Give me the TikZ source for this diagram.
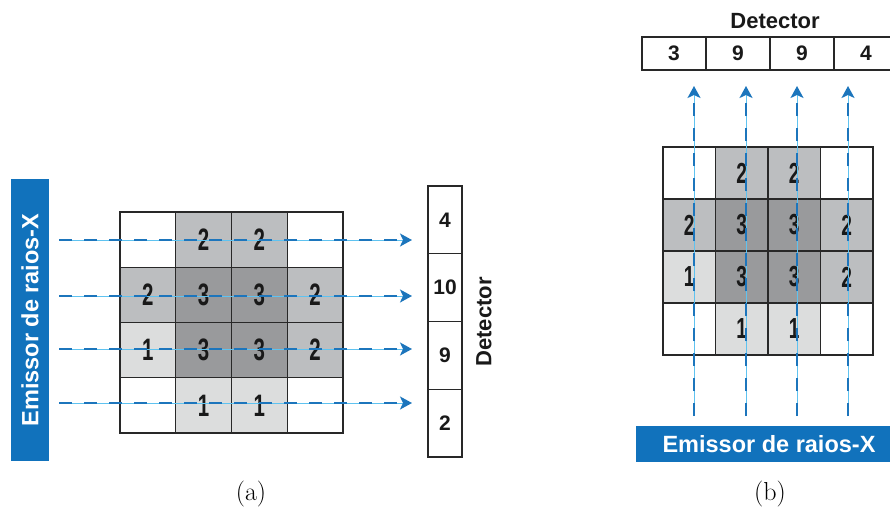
\documentclass[tikz,border=0pt]{standalone}
\usepackage{fontspec}
\usepackage{graphicx}
\newfontfamily\hv{Liberation Sans}
\usetikzlibrary{arrows.meta}
\definecolor{emblue}{RGB}{17,114,188}
\definecolor{raydark}{RGB}{28,117,188}
\definecolor{raylight}{RGB}{95,195,240}
\definecolor{g0}{RGB}{255,255,255}
\definecolor{g1}{RGB}{220,221,221}
\definecolor{g2}{RGB}{188,190,192}
\definecolor{g3}{RGB}{153,154,156}
\definecolor{gridline}{RGB}{40,40,40}
\tikzset{
  cell/.style={draw=gridline, line width=1.3pt, inner sep=0pt, outer sep=0pt,
    font=\hv\bfseries\fontsize{31}{31}\selectfont, text=black!90},
  detcell/.style={draw=gridline, line width=1.3pt, inner sep=0pt, outer sep=0pt,
    fill=white, font=\hv\bfseries\fontsize{21}{21}\selectfont, text=black!90},
  detlabel/.style={inner sep=0pt, font=\hv\bfseries\fontsize{22}{22}\selectfont, text=black!90},
  emitter/.style={fill=emblue, inner sep=0pt, outer sep=0pt, text=white,
    font=\hv\bfseries\fontsize{23.5}{24}\selectfont},
  raybase/.style={draw=raylight, line width=0.9pt},
  rayarrow/.style={draw=raydark, line width=1.8pt, dash pattern=on 13pt off 12pt,
    -{Stealth[length=12pt,width=13pt,inset=3pt,fill=raydark]}},
  caption/.style={inner sep=0pt, font=\fontsize{26}{28}\selectfont}
}
\begin{document}
\begin{tikzpicture}[x=1pt,y=-1pt]
\useasboundingbox (0,0) rectangle (890,511);
\clip (0,0) rectangle (890,511);

% ---------------- (a) ----------------
\foreach \v [count=\i from 0] in {0,2,2,0,2,3,3,2,1,3,3,2,0,1,1,0} {
  \pgfmathtruncatemacro\rr{int(\i/4)}
  \pgfmathtruncatemacro\cc{mod(\i,4)}
  \node[cell, fill=g\v, minimum width=55.75pt, minimum height=55.25pt]
    (a\rr\cc) at ({120+55.75*(\cc+0.5)}, {212+55.25*(\rr+0.5)})
    {\ifnum\v>0 \scalebox{0.66}[1]{\v}\fi};
}
\foreach \n [count=\i] in {4,10,9,2}
  \node[detcell, minimum width=34pt, minimum height=67.75pt]
    (dA\i) at (445, {186+67.75*(\i-0.5)}) {\n};
\node[detlabel] (dAlab) at (484,322) {\rotatebox{90}{Detector}};
\node[emitter, minimum width=38pt, minimum height=282pt] (emA) at (30,320)
  {\rotatebox{90}{Emissor de raios-X}};
\foreach \yy [count=\k] in {240,296,349,403} {
  \coordinate (ry\k) at (0,\yy);
  \draw[raybase, shorten <=10pt, shorten >=18pt] (emA.east |- ry\k) -- (dA1.west |- ry\k);
  \draw[rayarrow, shorten <=10pt, shorten >=16pt] (emA.east |- ry\k) -- (dA1.west |- ry\k);
}
\node[caption] (capA) at (251,494) {(a)};

% ---------------- (b) ----------------
\foreach \v [count=\i from 0] in {0,2,2,0,2,3,3,2,1,3,3,2,0,1,1,0} {
  \pgfmathtruncatemacro\rr{int(\i/4)}
  \pgfmathtruncatemacro\cc{mod(\i,4)}
  \node[cell, fill=g\v, minimum width=52.5pt, minimum height=52pt,
        font=\hv\bfseries\fontsize{29}{29}\selectfont]
    (b\rr\cc) at ({663+52.5*(\cc+0.5)}, {147+52*(\rr+0.5)})
    {\ifnum\v>0 \scalebox{0.66}[1]{\v}\fi};
}
\foreach \n [count=\i] in {3,9,9,4}
  \node[detcell, minimum width=64pt, minimum height=33pt]
    (dB\i) at ({642+64*(\i-0.5)}, 53.5) {\n};
\node[detlabel] (dBlab) at (775,21) {Detector};
\node[emitter, minimum width=266pt, minimum height=36pt] (emB) at (769,444)
  {Emissor de raios-X};
\foreach \xx [count=\k] in {694,746,797,848} {
  \coordinate (bx\k) at (\xx,0);
  \draw[raybase, shorten <=10pt, shorten >=18pt] (emB.north -| bx\k) -- (dB1.south -| bx\k);
  \draw[rayarrow, shorten <=10pt, shorten >=16pt] (emB.north -| bx\k) -- (dB1.south -| bx\k);
}
\node[caption] (capB) at (770,494) {(b)};
\end{tikzpicture}
\end{document}
